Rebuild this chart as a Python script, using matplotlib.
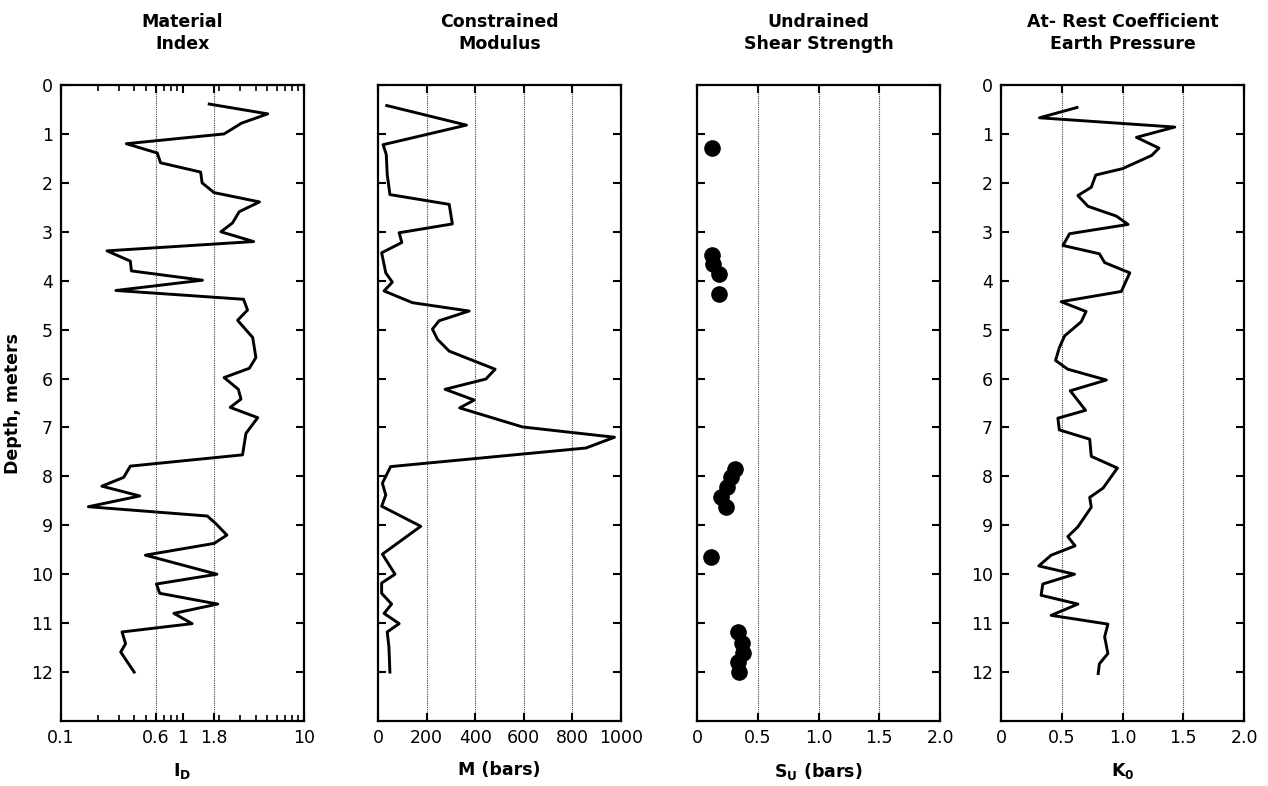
import matplotlib
matplotlib.use("Agg")
import matplotlib.pyplot as plt
from matplotlib.ticker import LogLocator, NullFormatter, FixedLocator

plt.rcParams["font.family"] = ["DejaVu Sans"]
plt.rcParams["mathtext.default"] = "bf"

# Material index I_D
id_depth = [0.39, 0.59, 0.78, 1.0, 1.2, 1.39, 1.59, 1.78, 2.0, 2.2, 2.39, 2.59, 2.82, 3.0, 3.2,
            3.39, 3.6, 3.8, 3.99, 4.2, 4.38, 4.6, 4.81, 5.16, 5.57, 5.79, 5.98, 6.22, 6.42, 6.59,
            6.8, 7.12, 7.56, 7.79, 8.02, 8.2, 8.4, 8.62, 8.81, 8.96, 9.2, 9.37, 9.61, 10.0, 10.2,
            10.39, 10.61, 10.8, 11.01, 11.18, 11.42, 11.59, 12.0]
id_value = [1.66, 5.03, 3.06, 2.2, 0.345, 0.62, 0.66, 1.41, 1.45, 1.82, 4.3, 2.93, 2.58, 2.07, 3.85,
            0.239, 0.372, 0.38, 1.46, 0.283, 3.18, 3.43, 2.84, 3.78, 4.02, 3.55, 2.2, 2.88, 3.03, 2.47,
            4.16, 3.33, 3.12, 0.372, 0.328, 0.217, 0.445, 0.168, 1.6, 1.87, 2.32, 1.82, 0.495, 1.92, 0.61,
            0.65, 1.95, 0.85, 1.2, 0.318, 0.34, 0.31, 0.40]

# Constrained modulus M (bars)
m_depth = [0.42, 0.82, 1.22, 1.42, 1.83, 2.24, 2.44, 2.84, 3.02, 3.22, 3.43, 3.84, 4.03, 4.21, 4.45,
           4.62, 4.82, 4.99, 5.2, 5.44, 5.81, 6.01, 6.22, 6.44, 6.6, 6.99, 7.2, 7.42, 7.8, 8.14,
           8.38, 8.61, 9.02, 9.59, 10.0, 10.18, 10.39, 10.61, 10.8, 11.01, 11.18, 11.49, 12.0]
m_value = [36, 364, 21, 34, 38, 49, 293, 306, 87, 98, 15, 32, 59, 25, 142,
           375, 251, 224, 245, 293, 482, 444, 276, 396, 336, 595, 973, 856, 52, 18,
           32, 15, 176, 18, 70, 15, 15, 56, 25, 87, 38, 45, 49]

# Undrained shear strength S_U (bars)
su_depth = [1.29, 3.47, 3.66, 3.86, 4.27, 7.84, 8.02, 8.22, 8.43, 8.63, 9.64, 11.19, 11.41, 11.6, 11.8, 12.0]
su_value = [0.124, 0.124, 0.13, 0.18, 0.18, 0.31, 0.276, 0.25, 0.2, 0.235, 0.116, 0.337, 0.373, 0.38, 0.34, 0.345]

# At-rest earth pressure coefficient K_0
k0_depth = [0.46, 0.67, 0.86, 1.07, 1.29, 1.44, 1.71, 1.84, 2.09, 2.26, 2.48, 2.68, 2.85, 3.04, 3.28,
            3.45, 3.63, 3.84, 4.22, 4.43, 4.63, 4.84, 5.13, 5.37, 5.63, 5.81, 6.03, 6.25, 6.65, 6.81,
            7.05, 7.24, 7.59, 7.83, 8.24, 8.43, 8.63, 9.03, 9.23, 9.42, 9.61, 9.83, 10.0, 10.2, 10.43,
            10.61, 10.84, 11.02, 11.28, 11.62, 11.83, 12.03]
k0_value = [0.625, 0.317, 1.43, 1.115, 1.3, 1.24, 1.0, 0.78, 0.743, 0.633, 0.716, 0.95, 1.046, 0.564, 0.51,
            0.81, 0.853, 1.06, 0.99, 0.495, 0.70, 0.66, 0.523, 0.48, 0.449, 0.55, 0.867, 0.57, 0.696, 0.468,
            0.48, 0.73, 0.743, 0.958, 0.84, 0.73, 0.743, 0.633, 0.55, 0.61, 0.413, 0.311, 0.605, 0.344, 0.33,
            0.633, 0.413, 0.88, 0.853, 0.88, 0.81, 0.8]

TITLES = ["Material\nIndex", "Constrained\nModulus", "Undrained\nShear Strength",
          "At- Rest Coefficient\nEarth Pressure"]
XLABELS = ["$I_D$", "M (bars)", "$S_U$ (bars)", "$K_0$"]
DEPTH_TICKS = list(range(13))

W, H = 1268, 786
fig = plt.figure(figsize=(W / 100, H / 100), dpi=100)

lefts = [61, 378, 697, 1001]
width = 243
top, bottom = 85, 721
axes = [fig.add_axes([l / W, (H - bottom) / H, width / W, (bottom - top) / H]) for l in lefts]


def style(ax, idx):
    ax.set_ylim(13, 0)
    ax.set_yticks(DEPTH_TICKS)
    for s in ax.spines.values():
        s.set_linewidth(1.6)
    ax.tick_params(which="major", direction="in", length=6, width=1.5,
                   top=True, right=True, labelsize=12.5, pad=6)
    ax.tick_params(which="minor", direction="in", length=4, width=1.2, top=True, right=True)
    ax.set_title(TITLES[idx], fontsize=12.5, fontweight="bold", pad=26, linespacing=1.25)
    ax.set_xlabel(XLABELS[idx], fontsize=12.5, fontweight="bold", labelpad=10)


def grid_lines(ax, positions):
    for g in positions:
        ax.axvline(g, color="#444444", lw=0.8, ls=(0, (1, 1)), zorder=0)


# Panel 1
ax = axes[0]
ax.plot(id_value, id_depth, color="black", lw=2.1)
ax.set_xscale("log")
ax.set_xlim(0.1, 10)
ax.xaxis.set_major_locator(FixedLocator([0.1, 0.6, 1, 1.8, 10]))
ax.set_xticklabels(["0.1", "0.6", "1", "1.8", "10"])
ax.xaxis.set_minor_locator(LogLocator(base=10, subs=range(2, 10)))
ax.xaxis.set_minor_formatter(NullFormatter())
grid_lines(ax, [0.6, 1.8])
style(ax, 0)
ax.set_ylabel("Depth, meters", fontsize=12.5, fontweight="bold", labelpad=6)

# Panel 2
ax = axes[1]
ax.plot(m_value, m_depth, color="black", lw=2.1)
ax.set_xlim(0, 1000)
ax.set_xticks([0, 200, 400, 600, 800, 1000])
grid_lines(ax, [200, 400, 600, 800])
style(ax, 1)
ax.tick_params(labelleft=False)

# Panel 3
ax = axes[2]
ax.scatter(su_value, su_depth, s=120, color="black", zorder=3)
ax.set_xlim(0, 2.0)
ax.set_xticks([0, 0.5, 1.0, 1.5, 2.0])
ax.set_xticklabels(["0", "0.5", "1.0", "1.5", "2.0"])
grid_lines(ax, [0.5, 1.0, 1.5])
style(ax, 2)
ax.tick_params(labelleft=False)

# Panel 4
ax = axes[3]
ax.plot(k0_value, k0_depth, color="black", lw=2.1)
ax.set_xlim(0, 2.0)
ax.set_xticks([0, 0.5, 1.0, 1.5, 2.0])
ax.set_xticklabels(["0", "0.5", "1.0", "1.5", "2.0"])
grid_lines(ax, [0.5, 1.0, 1.5])
style(ax, 3)

fig.savefig("out.png", dpi=100)
